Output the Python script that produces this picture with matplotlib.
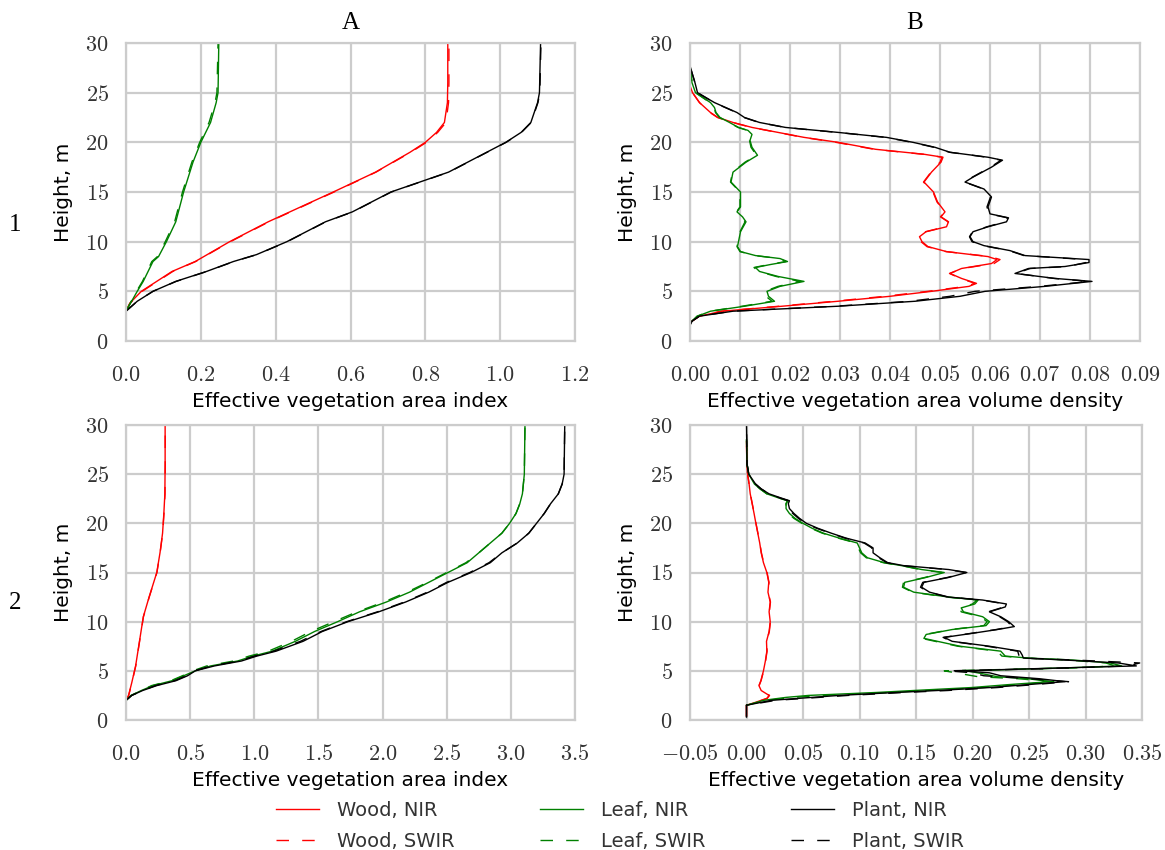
import matplotlib
matplotlib.use("Agg")
import matplotlib.pyplot as plt
from matplotlib.ticker import FuncFormatter, MultipleLocator
from matplotlib.lines import Line2D

# ---- panel A1: cumulative index, site 1 ----
a1_wood_h = [3.0, 3.8, 5.0, 7.0, 8.0, 10.0, 12.0, 15.0, 17.0, 19.0, 20.0, 21.0, 22.0, 24.0, 26.0, 30.0]
a1_wood_nir = [0.0, 0.01, 0.041, 0.123, 0.185, 0.277, 0.38, 0.554, 0.667, 0.759, 0.80, 0.83, 0.851, 0.859, 0.86, 0.86]
a1_wood_swir = [0.0, 0.011, 0.043, 0.125, 0.186, 0.279, 0.382, 0.556, 0.668, 0.761, 0.803, 0.833, 0.855, 0.862, 0.863, 0.863]
a1_leaf_h = [3.0, 4.0, 5.0, 6.0, 8.0, 8.5, 10.0, 12.0, 15.0, 18.0, 20.0, 22.0, 24.0, 25.0, 30.0]
a1_leaf_nir = [0.0, 0.015, 0.03, 0.046, 0.072, 0.087, 0.108, 0.133, 0.154, 0.179, 0.20, 0.226, 0.241, 0.246, 0.248]
a1_leaf_swir = [0.0, 0.014, 0.028, 0.044, 0.069, 0.084, 0.105, 0.130, 0.151, 0.176, 0.197, 0.222, 0.238, 0.243, 0.246]
a1_plant_h = [3.0, 4.0, 5.0, 6.0, 7.0, 8.0, 8.7, 10.0, 12.0, 13.0, 15.0, 17.0, 19.0, 20.0, 21.0, 22.0, 24.0, 25.0, 30.0]
a1_plant_nir = [0.0, 0.03, 0.072, 0.133, 0.215, 0.287, 0.349, 0.43, 0.533, 0.605, 0.708, 0.862, 0.964, 1.015, 1.056, 1.082, 1.10, 1.105, 1.108]
a1_plant_swir = [0.0, 0.03, 0.072, 0.134, 0.216, 0.288, 0.350, 0.431, 0.534, 0.606, 0.709, 0.863, 0.965, 1.016, 1.057, 1.083, 1.101, 1.106, 1.109]

# ---- panel B1: volume density, site 1 ----
b1_plant_h = [1.6, 2.0, 2.5, 3.0, 3.5, 4.0, 4.5, 5.0, 5.5, 6.0, 6.3, 6.8, 7.3, 7.5, 7.9, 8.2, 8.6, 9.1, 9.6, 10.0,
              10.5, 11.0, 11.5, 12.0, 12.4, 12.8, 13.5, 14.5, 15.3, 16.0, 16.5, 17.5, 18.2, 18.5, 19.0, 19.5, 20.0,
              20.5, 21.0, 21.5, 22.0, 22.5, 23.0, 24.0, 25.0, 26.0, 27.0, 27.7]
b1_plant_nir = [0.0, 0.0004, 0.0019, 0.0086, 0.0296, 0.045, 0.054, 0.059, 0.071, 0.0804, 0.073, 0.065, 0.0677, 0.075,
                0.0798, 0.0798, 0.067, 0.064, 0.0588, 0.0566, 0.056, 0.0566, 0.0596, 0.0633, 0.0637, 0.060, 0.0596,
                0.0603, 0.0588, 0.055, 0.0566, 0.0603, 0.0625, 0.0596, 0.052, 0.049, 0.0446, 0.0393, 0.0296, 0.0191,
                0.0139, 0.0109, 0.0094, 0.0049, 0.0015, 0.001, 0.0004, 0.0]
b1_plant_swir = [0.0, 0.0004, 0.0019, 0.0084, 0.0290, 0.044, 0.052, 0.057, 0.070, 0.0800, 0.0728, 0.0652, 0.0680,
                 0.0755, 0.0792, 0.0792, 0.0668, 0.0638, 0.0586, 0.0564, 0.0559, 0.0565, 0.0594, 0.0630, 0.0635,
                 0.0598, 0.0594, 0.0601, 0.0587, 0.0549, 0.0565, 0.0601, 0.0622, 0.0594, 0.0519, 0.0488, 0.0444,
                 0.0391, 0.0294, 0.0190, 0.0138, 0.0108, 0.0093, 0.0048, 0.0015, 0.001, 0.0004, 0.0]
b1_wood_h = [2.0, 2.5, 3.0, 3.5, 4.0, 4.5, 5.0, 5.5, 5.8, 6.3, 6.8, 7.3, 7.8, 8.2, 8.5, 9.0, 9.5, 10.0, 10.5, 11.0,
             11.5, 12.0, 12.5, 13.0, 14.0, 15.0, 16.0, 17.0, 18.0, 18.5, 18.8, 19.3, 20.0, 20.5, 21.0, 21.5, 22.0,
             22.5, 23.0, 24.0, 25.0, 25.7]
b1_wood_nir = [0.0004, 0.0019, 0.0064, 0.0184, 0.0296, 0.040, 0.0483, 0.0558, 0.0573, 0.0543, 0.052, 0.0543, 0.0603,
               0.0614, 0.0596, 0.0513, 0.0476, 0.0464, 0.0459, 0.0472, 0.0513, 0.0517, 0.0502, 0.051, 0.0495, 0.0487,
               0.0468, 0.0483, 0.0502, 0.0506, 0.0468, 0.0371, 0.0296, 0.0228, 0.0176, 0.0124, 0.0086, 0.0056,
               0.0041, 0.0019, 0.0005, 0.0]
b1_wood_swir = [0.0004, 0.0018, 0.0062, 0.0178, 0.0288, 0.039, 0.0476, 0.0552, 0.0570, 0.0541, 0.0519, 0.0545, 0.0608,
                0.0620, 0.0600, 0.0512, 0.0474, 0.0462, 0.0458, 0.0471, 0.0511, 0.0516, 0.0501, 0.0509, 0.0494,
                0.0486, 0.0467, 0.0482, 0.0500, 0.0504, 0.0466, 0.0368, 0.0292, 0.0226, 0.0175, 0.0123, 0.0085,
                0.0055, 0.0040, 0.0019, 0.0005, 0.0]
b1_leaf_h = [2.0, 2.5, 3.0, 3.5, 4.0, 4.5, 5.0, 5.5, 6.0, 6.5, 7.0, 7.4, 7.7, 8.0, 8.3, 8.6, 9.0, 9.5, 10.0, 11.0,
             12.0, 12.5, 13.0, 13.5, 15.0, 16.0, 17.0, 18.0, 18.7, 19.5, 20.2, 20.8, 21.2, 21.5, 22.0, 22.5, 23.0,
             23.5, 24.0, 25.0, 26.0, 27.0, 27.7]
b1_leaf_nir = [0.0004, 0.0015, 0.0041, 0.0109, 0.0169, 0.0157, 0.0154, 0.018, 0.0228, 0.0176, 0.0139, 0.0131, 0.0161,
               0.0195, 0.018, 0.0131, 0.0101, 0.0095, 0.0097, 0.0101, 0.0112, 0.0105, 0.0094, 0.0101, 0.0101, 0.0082,
               0.0086, 0.0112, 0.0135, 0.0124, 0.012, 0.0124, 0.0116, 0.0097, 0.0079, 0.006, 0.0052, 0.0049, 0.0041,
               0.0011, 0.0004, 0.0002, 0.0]
b1_leaf_swir = [0.0004, 0.0014, 0.0040, 0.0104, 0.0164, 0.0152, 0.0150, 0.0176, 0.0220, 0.0172, 0.0137, 0.0128,
                0.0158, 0.0192, 0.0178, 0.0130, 0.0100, 0.0094, 0.0096, 0.0100, 0.0110, 0.0104, 0.0093, 0.0100,
                0.0100, 0.0081, 0.0085, 0.0110, 0.0133, 0.0122, 0.0119, 0.0122, 0.0115, 0.0096, 0.0078, 0.0059,
                0.0051, 0.0048, 0.0040, 0.0011, 0.0004, 0.0002, 0.0]

# ---- panel A2: cumulative index, site 2 ----
a2_wood_h = [2.0, 2.5, 3.8, 5.5, 8.0, 10.5, 12.5, 15.0, 17.0, 19.0, 21.0, 23.0, 26.0, 30.0]
a2_wood_nir = [0.0, 0.02, 0.045, 0.075, 0.105, 0.135, 0.18, 0.24, 0.265, 0.285, 0.295, 0.303, 0.305, 0.305]
a2_wood_swir = [0.0, 0.021, 0.046, 0.076, 0.106, 0.136, 0.181, 0.241, 0.266, 0.286, 0.296, 0.304, 0.306, 0.306]
a2_leaf_h = [2.0, 2.5, 3.0, 3.5, 4.0, 4.5, 5.0, 5.5, 6.0, 6.5, 7.0, 8.0, 9.0, 10.0, 11.0, 12.0, 13.0, 14.0, 15.0,
             16.0, 17.0, 18.0, 19.0, 20.0, 21.0, 22.0, 23.0, 25.0, 30.0]
a2_leaf_nir = [0.0, 0.04, 0.12, 0.21, 0.36, 0.45, 0.54, 0.66, 0.87, 0.99, 1.14, 1.32, 1.47, 1.65, 1.82, 2.03, 2.21,
               2.36, 2.51, 2.66, 2.75, 2.84, 2.93, 2.99, 3.04, 3.07, 3.09, 3.105, 3.11]
a2_leaf_swir = [0.0, 0.04, 0.12, 0.20, 0.35, 0.44, 0.52, 0.63, 0.84, 0.96, 1.11, 1.29, 1.44, 1.62, 1.80, 2.01, 2.19,
                2.35, 2.50, 2.65, 2.75, 2.84, 2.93, 2.99, 3.04, 3.07, 3.09, 3.105, 3.11]
a2_plant_h = [2.0, 2.5, 3.0, 3.5, 4.0, 4.5, 5.0, 5.5, 6.0, 6.5, 7.0, 8.0, 9.0, 10.0, 11.0, 12.0, 13.0, 14.0, 15.0,
              16.0, 17.0, 18.0, 19.0, 20.0, 21.0, 22.0, 23.0, 24.0, 25.0, 30.0]
a2_plant_nir = [0.0, 0.045, 0.13, 0.24, 0.39, 0.48, 0.54, 0.69, 0.90, 1.02, 1.17, 1.38, 1.53, 1.73, 1.97, 2.18, 2.36,
                2.51, 2.69, 2.84, 2.93, 3.05, 3.14, 3.20, 3.26, 3.31, 3.37, 3.40, 3.415, 3.42]
a2_plant_swir = [0.0, 0.045, 0.13, 0.23, 0.38, 0.47, 0.53, 0.67, 0.88, 1.00, 1.15, 1.36, 1.52, 1.72, 1.96, 2.17, 2.35,
                 2.50, 2.68, 2.83, 2.93, 3.05, 3.14, 3.20, 3.26, 3.31, 3.37, 3.40, 3.415, 3.42]

# ---- panel B2: volume density, site 2 ----
b2_wood_h = [0.4, 1.5, 1.8, 2.2, 2.5, 3.0, 3.5, 4.0, 5.0, 6.0, 7.0, 8.0, 9.0, 10.0, 11.0, 12.0, 13.0, 14.0, 15.0,
             16.0, 17.0, 18.0, 19.0, 20.0, 21.0, 22.0, 23.0, 24.0, 25.0, 26.0, 28.3]
b2_wood_nir = [0.0, 0.0, 0.008, 0.018, 0.02, 0.013, 0.011, 0.0127, 0.015, 0.0167, 0.018, 0.0177, 0.02, 0.021, 0.02,
               0.021, 0.019, 0.0197, 0.018, 0.015, 0.013, 0.0117, 0.010, 0.0083, 0.0067, 0.005, 0.0033, 0.0023,
               0.001, 0.0003, 0.0]
b2_wood_swir = [0.0, 0.0, 0.0082, 0.0184, 0.0204, 0.0133, 0.0112, 0.0129, 0.0152, 0.0169, 0.0182, 0.0179, 0.0202,
                0.0212, 0.0202, 0.0212, 0.0192, 0.0199, 0.0182, 0.0152, 0.0132, 0.0118, 0.0101, 0.0084, 0.0068,
                0.0051, 0.0034, 0.0023, 0.001, 0.0003, 0.0]
b2_leaf_h = [1.5, 2.0, 2.3, 2.5, 2.8, 3.0, 3.3, 3.6, 3.9, 4.2, 4.4, 4.7, 5.0, 5.3, 5.5, 5.8, 6.1, 6.3, 6.5, 7.0,
             7.5, 8.0, 8.3, 8.7, 9.2, 9.6, 10.0, 10.5, 11.0, 11.4, 11.8, 12.2, 12.5, 13.0, 13.5, 14.0, 14.5, 15.0,
             15.3, 15.6, 16.0, 16.5, 17.0, 17.5, 18.0, 18.5, 19.0, 19.5, 20.0, 20.5, 21.0, 21.5, 22.0, 22.3, 22.6,
             23.0, 23.5, 24.0, 25.0, 26.0, 28.5]
b2_leaf_nir = [0.0, 0.015, 0.035, 0.055, 0.115, 0.148, 0.199, 0.232, 0.269, 0.249, 0.222, 0.209, 0.195, 0.282,
               0.332, 0.322, 0.289, 0.249, 0.229, 0.225, 0.189, 0.169, 0.157, 0.159, 0.182, 0.212, 0.215, 0.209,
               0.192, 0.19, 0.202, 0.205, 0.179, 0.148, 0.139, 0.14, 0.159, 0.175, 0.155, 0.142, 0.122, 0.107,
               0.102, 0.10, 0.098, 0.082, 0.068, 0.058, 0.05, 0.043, 0.038, 0.035, 0.035, 0.037, 0.028, 0.018,
               0.012, 0.007, 0.002, 0.0005, 0.0]
b2_leaf_swir = [0.0, 0.018, 0.042, 0.068, 0.128, 0.160, 0.210, 0.242, 0.272, 0.240, 0.205, 0.190, 0.175, 0.290,
                0.326, 0.318, 0.284, 0.246, 0.226, 0.222, 0.187, 0.167, 0.155, 0.158, 0.181, 0.210, 0.213, 0.207,
                0.190, 0.189, 0.200, 0.204, 0.177, 0.147, 0.138, 0.139, 0.158, 0.173, 0.154, 0.141, 0.121, 0.106,
                0.101, 0.099, 0.097, 0.081, 0.067, 0.057, 0.049, 0.042, 0.037, 0.035, 0.035, 0.036, 0.028, 0.018,
                0.012, 0.007, 0.002, 0.0005, 0.0]
b2_plant_h = [0.3, 1.5, 2.0, 2.5, 2.8, 3.0, 3.3, 3.6, 3.9, 4.2, 4.5, 4.8, 5.0, 5.2, 5.5, 5.8, 6.1, 6.3, 6.6, 7.0,
              7.5, 8.0, 8.4, 8.8, 9.2, 9.5, 10.0, 10.5, 11.0, 11.5, 11.8, 12.2, 12.5, 13.0, 13.5, 14.0, 14.5, 15.0,
              15.3, 15.7, 16.0, 16.5, 17.0, 17.5, 18.0, 18.5, 19.0, 19.5, 20.0, 20.5, 21.0, 21.5, 22.0, 22.3, 22.6,
              23.0, 23.5, 24.0, 25.0, 26.0, 30.0]
b2_plant_nir = [0.0, 0.0, 0.022, 0.082, 0.132, 0.169, 0.215, 0.249, 0.282, 0.259, 0.225, 0.215, 0.189, 0.249, 0.345,
                0.329, 0.282, 0.245, 0.244, 0.242, 0.215, 0.182, 0.175, 0.199, 0.222, 0.237, 0.232, 0.225, 0.215,
                0.229, 0.23, 0.209, 0.179, 0.162, 0.155, 0.157, 0.179, 0.195, 0.179, 0.139, 0.125, 0.118, 0.112,
                0.112, 0.105, 0.088, 0.075, 0.063, 0.053, 0.047, 0.042, 0.038, 0.037, 0.038, 0.03, 0.02, 0.013,
                0.008, 0.002, 0.0005, 0.0]
b2_plant_swir = [0.0, 0.0, 0.026, 0.090, 0.140, 0.178, 0.222, 0.255, 0.285, 0.250, 0.210, 0.200, 0.178, 0.260, 0.338,
                 0.348, 0.290, 0.243, 0.241, 0.240, 0.213, 0.181, 0.174, 0.198, 0.221, 0.235, 0.231, 0.224, 0.214,
                 0.228, 0.229, 0.208, 0.178, 0.161, 0.154, 0.156, 0.178, 0.194, 0.178, 0.138, 0.124, 0.117, 0.111,
                 0.111, 0.104, 0.087, 0.074, 0.062, 0.052, 0.046, 0.041, 0.037, 0.036, 0.037, 0.029, 0.02, 0.013,
                 0.008, 0.002, 0.0005, 0.0]

col_titles = ["A", "B"]
row_titles = ["1", "2"]
legend_labels = ["Wood, NIR", "Wood, SWIR", "Leaf, NIR", "Leaf, SWIR", "Plant, NIR", "Plant, SWIR"]

plt.rcParams["mathtext.fontset"] = "cm"
plt.rcParams["font.family"] = ["DejaVu Sans"]
plt.rcParams["text.color"] = "#333333"

fig = plt.figure(figsize=(11.65, 8.5), dpi=100)
W, H = 1165.0, 850.0
boxes = [(126, 43, 575, 341), (690, 43, 1140, 341), (126, 425, 575, 720), (690, 425, 1142, 720)]
axes = [fig.add_axes([l / W, 1 - b / H, (r - l) / W, (b - t) / H]) for l, t, r, b in boxes]

RED, GREEN, BLACK = "#ff0000", "#008000", "#000000"
DASH = (0, (9, 9.5))
panels = [
    [(a1_wood_h, a1_wood_nir, a1_wood_swir, RED), (a1_leaf_h, a1_leaf_nir, a1_leaf_swir, GREEN),
     (a1_plant_h, a1_plant_nir, a1_plant_swir, BLACK)],
    [(b1_wood_h, b1_wood_nir, b1_wood_swir, RED), (b1_leaf_h, b1_leaf_nir, b1_leaf_swir, GREEN),
     (b1_plant_h, b1_plant_nir, b1_plant_swir, BLACK)],
    [(a2_wood_h, a2_wood_nir, a2_wood_swir, RED), (a2_leaf_h, a2_leaf_nir, a2_leaf_swir, GREEN),
     (a2_plant_h, a2_plant_nir, a2_plant_swir, BLACK)],
    [(b2_wood_h, b2_wood_nir, b2_wood_swir, RED), (b2_leaf_h, b2_leaf_nir, b2_leaf_swir, GREEN),
     (b2_plant_h, b2_plant_nir, b2_plant_swir, BLACK)],
]
xlims = [(0, 1.2), (0, 0.09), (0, 3.5), (-0.05, 0.35)]
xsteps = [0.2, 0.01, 0.5, 0.05]
xfmt = ["%.1f", "%.2f", "%.1f", "%.2f"]
xlabels = ["Effective vegetation area index", "Effective vegetation area volume density"] * 2

for i, ax in enumerate(axes):
    for h, nir, swir, c in panels[i]:
        ax.plot(nir, h, color=c, lw=1.0)
        ax.plot(swir, h, color=c, lw=1.0, ls=DASH)
    ax.set_xlim(*xlims[i])
    ax.set_ylim(0, 30)
    ax.xaxis.set_major_locator(MultipleLocator(xsteps[i]))
    ax.yaxis.set_major_locator(MultipleLocator(5))
    ax.xaxis.set_major_formatter(FuncFormatter(lambda v, p, f=xfmt[i]: "$%s$" % (f % v)))
    ax.yaxis.set_major_formatter(FuncFormatter(lambda v, p: "$%d$" % round(v)))
    ax.grid(True, color="#cccccc", lw=1.6)
    ax.set_axisbelow(True)
    for s in ax.spines.values():
        s.set_color("#cccccc")
        s.set_linewidth(1.6)
    ax.tick_params(length=0, labelsize=16, labelcolor="#333333")
    ax.tick_params(axis="x", pad=17)
    ax.tick_params(axis="y", pad=12.5)
    ax.set_xlabel(xlabels[i], fontsize=14.5, labelpad=5)
    ax.set_ylabel("Height, m", fontsize=14.5, labelpad=9)

for j, t in enumerate(col_titles):
    axes[j].set_title(t, family="Liberation Serif", fontsize=18, color="black", pad=10)
for k, t in enumerate(row_titles):
    fig.text(15 / W, 1 - (225 if k == 0 else 603) / H, t, family="Liberation Serif", fontsize=18,
             color="black", ha="center", va="center")

handles = []
for c in (RED, GREEN, BLACK):
    handles.append(Line2D([], [], color=c, lw=1.0))
    handles.append(Line2D([], [], color=c, lw=1.0, ls=DASH))
fig.legend(handles, legend_labels, ncol=3, frameon=False, fontsize=14, loc="upper left",
           bbox_to_anchor=(276 / W, 1 - 801 / H), borderpad=0, borderaxespad=0,
           handlelength=2.2, handletextpad=0.93, columnspacing=4.4, labelspacing=0.62)

fig.savefig("out.png", dpi=100)
